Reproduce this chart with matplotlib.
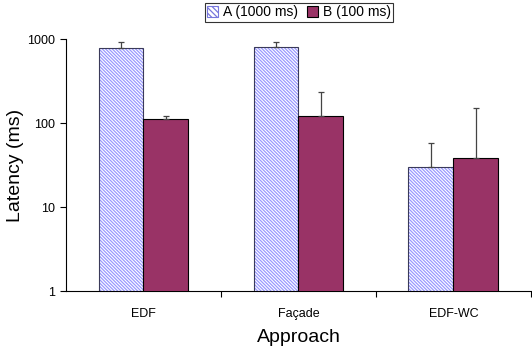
import matplotlib
matplotlib.use("Agg")
import matplotlib.pyplot as plt
import numpy as np
from matplotlib.patches import Patch

plt.rcParams['font.family'] = ['Liberation Sans', 'DejaVu Sans']
plt.rcParams['hatch.linewidth'] = 0.9

categories = ["EDF", "Façade", "EDF-WC"]
series_names = ["A (1000 ms)", "B (100 ms)"]
values_a = [781, 809, 30]
values_b = [112, 121, 38]
err_a = [140, 111, 28]
err_b = [9, 115, 113]
yticks = [1, 10, 100, 1000]
ytick_labels = ["1", "10", "100", "1000"]

fig = plt.figure(figsize=(5.32, 3.55), dpi=100)
ax = fig.add_axes([0.124, 0.180, 0.874, 0.710])

x = np.arange(len(categories))
w = 0.29
xa = x - w / 2
xb = x + w / 2

hatch_a = '\\' * 10
ax.bar(xa, values_a, width=w, color='white', edgecolor='#9999ff', hatch=hatch_a, linewidth=0, zorder=2)
ax.bar(xa, values_a, width=w, fill=False, edgecolor='#3a3a5a', linewidth=0.8, zorder=3)
ax.bar(xb, values_b, width=w, color='#993366', edgecolor='black', linewidth=0.8, zorder=3)

ax.errorbar(xa, values_a, yerr=[np.zeros(3), err_a], fmt='none', ecolor='#444444',
            elinewidth=0.9, capsize=2.5, capthick=0.9, zorder=4)
ax.errorbar(xb, values_b, yerr=[np.zeros(3), err_b], fmt='none', ecolor='#444444',
            elinewidth=0.9, capsize=2.5, capthick=0.9, zorder=4)

ax.set_yscale('log')
ax.set_ylim(1, 1000)
ax.set_xlim(-0.5, 2.5)
ax.set_yticks(yticks)
ax.set_yticklabels(ytick_labels)
ax.yaxis.set_minor_locator(matplotlib.ticker.NullLocator())
ax.set_xticks([0.5, 1.5, 2.5], minor=False)
ax.set_xticklabels(['', '', ''])
ax.set_xticks(x, minor=True)
ax.set_xticklabels(categories, minor=True)
ax.tick_params(axis='x', which='minor', length=0, pad=12, labelsize=9)
ax.tick_params(axis='x', which='major', length=4, direction='out', width=0.8)
ax.tick_params(axis='y', length=4, direction='out', width=0.8, labelsize=9, pad=4)

for s in ['top', 'right']:
    ax.spines[s].set_visible(False)
ax.spines['left'].set_linewidth(0.8)
ax.spines['bottom'].set_linewidth(0.8)

ax.set_ylabel("Latency (ms)", fontsize=14, labelpad=2)
ax.set_xlabel("Approach", fontsize=14, labelpad=7)

handles = [Patch(facecolor='white', edgecolor='#7777dd', hatch='\\\\\\\\\\\\', linewidth=0.8),
           Patch(facecolor='#993366', edgecolor='black', linewidth=0.8)]
leg = fig.legend(handles, series_names, loc='center', bbox_to_anchor=(0.562, 0.965), ncol=2,
                 fontsize=10, frameon=True, fancybox=False, edgecolor='black',
                 handlelength=0.75, handleheight=0.75, handletextpad=0.35, columnspacing=0.7,
                 borderpad=0.15, borderaxespad=0)
leg.get_frame().set_linewidth(0.8)

fig.savefig("out.png", dpi=100)
